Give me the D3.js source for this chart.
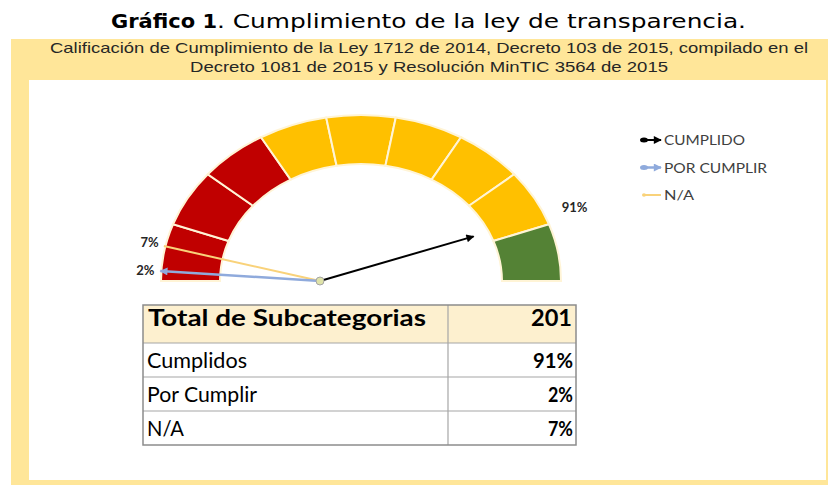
<!DOCTYPE html>
<html>
<head>
<meta charset="utf-8">
<script src="https://cdn.jsdelivr.net/npm/d3@7"></script>
<style>
  body { margin: 0; background: #fff; }
  svg { display: block; }
</style>
</head>
<body>
<div id="chart"></div>
<script>
// ---- data ----
var titleBold = "Gráfico 1"
var titleRest = ". Cumplimiento de la ley de transparencia."
var subtitleLines = [
    "Calificación de Cumplimiento de la Ley 1712 de 2014, Decreto 103 de 2015, compilado en el",
    "Decreto 1081 de 2015 y Resolución MinTIC 3564 de 2015"
]

// gauge bands, left to right
var bandLevels = ["bajo", "bajo", "bajo", "medio", "medio", "medio", "medio", "medio", "alto"]
var bandWeights = [1, 1, 1, 1, 1, 1, 1, 1, 1]

// needles
var seriesNames = ["CUMPLIDO", "POR CUMPLIR", "N/A"]
var seriesValues = [91, 2, 7]

// table
var tableHeader = ["Total de Subcategorias", "201"]
var tableRows = ["Cumplidos", "Por Cumplir", "N/A"]
var tableValues = seriesValues.map(v => v + "%")

var svgSize = { width: 828, height: 485 }

var svg = d3.select("#chart")
    .append("svg")
    .attr("width", svgSize.width)
    .attr("height", svgSize.height)

// frame
svg.append("rect").attr("x", 11).attr("y", 39).attr("width", 817).attr("height", 446).attr("fill", "#ffe699")
svg.append("rect").attr("x", 29).attr("y", 80).attr("width", 797).attr("height", 400).attr("fill", "#ffffff")

// titles
svg.append("text")
    .attr("x", 111).attr("y", 28)
    .attr("font-family", "DejaVu Sans").attr("font-weight", "bold").attr("font-size", 20)
    .attr("textLength", 106).attr("lengthAdjust", "spacingAndGlyphs")
    .text(titleBold)
svg.append("text")
    .attr("x", 217).attr("y", 28)
    .attr("font-family", "DejaVu Sans").attr("font-size", 20)
    .attr("textLength", 529).attr("lengthAdjust", "spacingAndGlyphs")
    .text(titleRest)

var subLengths = [758, 478]
svg.selectAll("text.sub")
    .data(subtitleLines)
    .enter()
    .append("text")
    .attr("class", "sub")
    .attr("x", 429)
    .attr("y", (d, i) => 53 + i * 19)
    .attr("text-anchor", "middle")
    .attr("font-family", "Liberation Sans").attr("font-size", 15)
    .attr("fill", "#262626")
    .attr("textLength", (d, i) => subLengths[i]).attr("lengthAdjust", "spacingAndGlyphs")
    .text(d => d)

// ---- gauge ----
var gaugeCenter = { x: 361, y: 281 }
var gaugeR = { x: 200, y: 166 }

var bandColor = d3.scaleOrdinal()
    .domain(["bajo", "medio", "alto"])
    .range(["#c00000", "#ffc000", "#548235"])

var pie = d3.pie().sort(null).startAngle(-Math.PI / 2).endAngle(Math.PI / 2)
var arc = d3.arc().innerRadius(0.705).outerRadius(1)

var gauge = svg.append("g")
    .attr("transform", `translate(${gaugeCenter.x}, ${gaugeCenter.y}) scale(${gaugeR.x}, ${gaugeR.y})`)

gauge.selectAll("path")
    .data(pie(bandWeights))
    .enter()
    .append("path")
    .attr("d", arc)
    .attr("fill", (d, i) => bandColor(bandLevels[i]))
    .attr("stroke", "#fff4d6")
    .attr("stroke-width", 2)
    .attr("vector-effect", "non-scaling-stroke")

// needles
var pivot = { x: 320, y: 281 }
var needleLen = 160
var angle = d3.scaleLinear().domain([0, 100]).range([0, Math.PI])

var needleColor = ["#000000", "#8faadc", "#f9d27a"]
var needleWidth = [2, 2.5, 2]
var hasArrow = [true, true, false]

var defs = svg.append("defs")
needleColor.forEach((c, i) => {
    defs.append("marker")
        .attr("id", "arrow" + i)
        .attr("viewBox", "0 0 10 10")
        .attr("refX", 9).attr("refY", 5)
        .attr("markerWidth", 9).attr("markerHeight", 8)
        .attr("markerUnits", "userSpaceOnUse")
        .attr("orient", "auto")
        .append("path")
        .attr("d", "M0,0 L10,5 L0,10 z")
        .attr("fill", c)
})

var tip = v => ({
    x: pivot.x - needleLen * Math.cos(angle(v)),
    y: pivot.y - needleLen * Math.sin(angle(v))
})

var order = [2, 1, 0]
var needles = svg.append("g")
order.forEach(i => {
    var t = tip(seriesValues[i])
    needles.append("line")
        .attr("x1", pivot.x).attr("y1", pivot.y)
        .attr("x2", t.x).attr("y2", t.y)
        .attr("stroke", needleColor[i])
        .attr("stroke-width", needleWidth[i])
        .attr("marker-end", hasArrow[i] ? `url(#arrow${i})` : null)
})

needles.append("circle")
    .attr("cx", pivot.x).attr("cy", pivot.y).attr("r", 4)
    .attr("fill", "#dfe3a8").attr("stroke", "#a5a5a5").attr("stroke-width", 1)

// value labels, placed just outside the ring along each needle's ray
function exitDist(v) {
    var ux = -Math.cos(angle(v)), uy = -Math.sin(angle(v))
    var ox = pivot.x - gaugeCenter.x, oy = pivot.y - gaugeCenter.y
    var a = ux * ux / (gaugeR.x * gaugeR.x) + uy * uy / (gaugeR.y * gaugeR.y)
    var b = 2 * (ox * ux / (gaugeR.x * gaugeR.x) + oy * uy / (gaugeR.y * gaugeR.y))
    var c = ox * ox / (gaugeR.x * gaugeR.x) + oy * oy / (gaugeR.y * gaugeR.y) - 1
    return (-b + Math.sqrt(b * b - 4 * a * c)) / (2 * a)
}

seriesValues.forEach((v, i) => {
    var lbl = svg.append("text")
        .attr("text-anchor", "middle")
        .attr("dy", "0.35em")
        .attr("font-family", "Lato").attr("font-weight", "bold").attr("font-size", 13)
        .attr("fill", "#262626")
        .text(v + "%")
    var w = lbl.node().getComputedTextLength()
    // right-hand label sits a bit further out in the original
    var d = exitDist(v) + w / 2 + (v > 50 ? 18 : 7)
    lbl.attr("x", pivot.x - d * Math.cos(angle(v)))
       .attr("y", pivot.y - d * Math.sin(angle(v)))
})

// legend
var legend = svg.append("g").attr("transform", "translate(641, 140)")
var legendLengths = [81, 103, 30]
seriesNames.forEach((name, i) => {
    var y = i * 27.5
    var row = legend.append("g").attr("transform", `translate(0, ${y})`)
    row.append("line")
        .attr("x1", 2).attr("y1", 0).attr("x2", 20).attr("y2", 0)
        .attr("stroke", needleColor[i]).attr("stroke-width", needleWidth[i])
        .attr("marker-end", hasArrow[i] ? `url(#arrow${i})` : null)
    row.append("ellipse")
        .attr("cx", 3).attr("cy", 0)
        .attr("rx", hasArrow[i] ? 4 : 2).attr("ry", hasArrow[i] ? 2.5 : 1.8)
        .attr("fill", needleColor[i])
    row.append("text")
        .attr("x", 23).attr("y", 5)
        .attr("font-family", "Lato").attr("font-size", 14)
        .attr("fill", "#404040")
        .attr("textLength", legendLengths[i]).attr("lengthAdjust", "spacingAndGlyphs")
        .text(name)
})

// ---- table ----
var table = { left: 143, mid: 448, right: 576, top: 305, headH: 38, rowH: 34 }
var tableBottom = table.top + table.headH + table.rowH * tableRows.length
var tg = svg.append("g")

tg.append("rect")
    .attr("x", table.left).attr("y", table.top)
    .attr("width", table.right - table.left).attr("height", table.headH)
    .attr("fill", "#fdf0cf")

var rowTop = i => table.top + table.headH + i * table.rowH

tableRows.forEach((r, i) => {
    tg.append("line")
        .attr("x1", table.left).attr("x2", table.right)
        .attr("y1", rowTop(i)).attr("y2", rowTop(i))
        .attr("stroke", "#a6a6a6").attr("stroke-width", 1.2)
})
tg.append("line")
    .attr("x1", table.mid).attr("x2", table.mid)
    .attr("y1", table.top).attr("y2", tableBottom)
    .attr("stroke", "#a6a6a6").attr("stroke-width", 1.2)
tg.append("rect")
    .attr("x", table.left).attr("y", table.top)
    .attr("width", table.right - table.left).attr("height", tableBottom - table.top)
    .attr("fill", "none").attr("stroke", "#8c8c8c").attr("stroke-width", 1.5)

tg.append("text")
    .attr("x", 148).attr("y", table.top + 21)
    .attr("font-family", "Lato").attr("font-weight", "bold").attr("font-size", 23)
    .attr("fill", "#000")
    .attr("textLength", 278).attr("lengthAdjust", "spacingAndGlyphs")
    .text(tableHeader[0])
tg.append("text")
    .attr("x", 572).attr("y", table.top + 21)
    .attr("text-anchor", "end")
    .attr("font-family", "Lato").attr("font-weight", "bold").attr("font-size", 23)
    .attr("fill", "#000")
    .attr("textLength", 41).attr("lengthAdjust", "spacingAndGlyphs")
    .text(tableHeader[1])

var rowLengths = [100, 110, 37]
var valLengths = [40, 25, 25]
tableRows.forEach((r, i) => {
    tg.append("text")
        .attr("x", 147).attr("y", rowTop(i) + 25)
        .attr("font-family", "Lato").attr("font-size", 21)
        .attr("fill", "#000")
        .attr("textLength", rowLengths[i]).attr("lengthAdjust", "spacingAndGlyphs")
        .text(r)
    tg.append("text")
        .attr("x", 573).attr("y", rowTop(i) + 25)
        .attr("text-anchor", "end")
        .attr("font-family", "Lato").attr("font-weight", "bold").attr("font-size", 21)
        .attr("fill", "#000")
        .attr("textLength", valLengths[i]).attr("lengthAdjust", "spacingAndGlyphs")
        .text(tableValues[i])
})
</script>
</body>
</html>
